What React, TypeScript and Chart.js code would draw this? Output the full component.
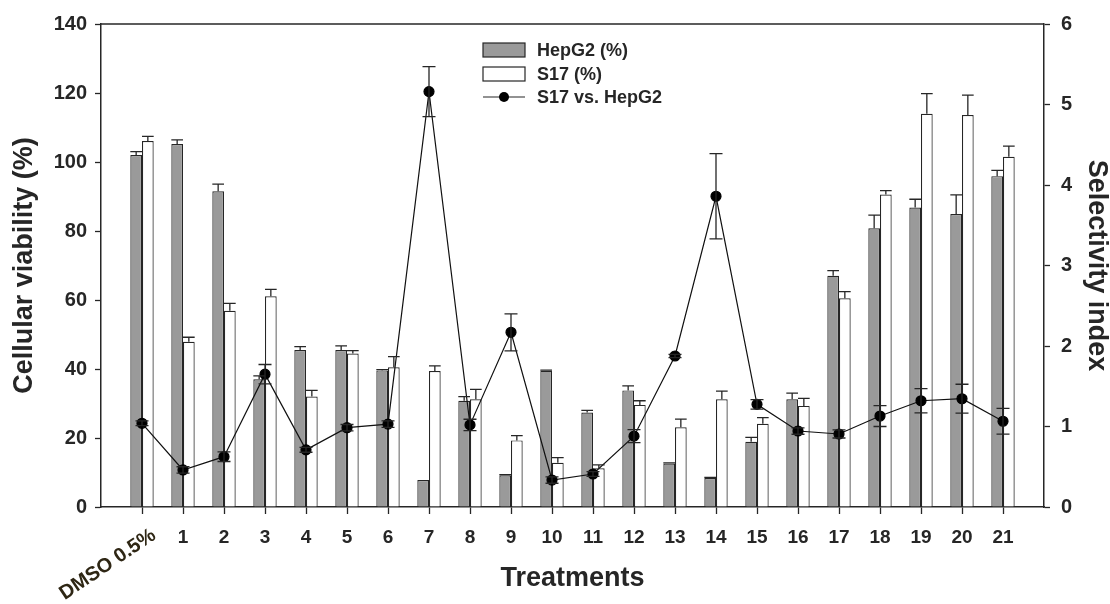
import React, { useEffect, useRef } from 'react';
import { Chart, registerables } from 'chart.js';
Chart.register(...registerables);

const categories = ['DMSO 0.5%', '1', '2', '3', '4', '5', '6', '7', '8', '9', '10', '11', '12', '13', '14', '15', '16', '17', '18', '19', '20', '21'];
const hepg2 = [102, 105.2, 91.5, 37, 45.5, 45.5, 39.6, 7.8, 30.8, 9.2, 39.5, 27.4, 33.8, 12.6, 8.4, 18.9, 31.2, 67, 80.8, 86.8, 84.9, 95.9];
const hepg2Err = [1, 1.2, 2.1, 1, 1, 1.2, 0.2, 0, 1.2, 0.2, 0.2, 0.6, 1.3, 0.2, 0.2, 1.3, 1.8, 1.5, 3.8, 2.4, 5.6, 1.7];
const s17 = [106.1, 47.9, 56.9, 61.1, 32, 44.5, 40.5, 39.4, 31.2, 19.3, 12.8, 11.2, 29.6, 23.1, 31.2, 24.1, 29.3, 60.5, 90.6, 114, 113.6, 101.5];
const s17Err = [1.3, 1.3, 2.1, 2, 1.8, 0.8, 3.1, 1.5, 2.9, 1.4, 1.5, 1, 1.2, 2.4, 2.4, 1.8, 2.2, 1.9, 1.1, 5.8, 5.8, 3.1];
const selectivity = [1.04, 0.46, 0.625, 1.65, 0.71, 0.985, 1.03, 5.16, 1.02, 2.17, 0.335, 0.41, 0.88, 1.876, 3.86, 1.275, 0.944, 0.907, 1.13, 1.32, 1.345, 1.065];
const selectivityErr = [0.03, 0.04, 0.06, 0.12, 0.03, 0.04, 0.04, 0.31, 0.07, 0.23, 0.04, 0.03, 0.08, 0.02, 0.53, 0.06, 0.04, 0.05, 0.13, 0.15, 0.18, 0.16];
const seriesNames = ['HepG2 (%)', 'S17 (%)', 'S17 vs. HepG2'];

const FONT = "'Liberation Sans', Arial, sans-serif";
const INK = '#262626';
const GREY = '#9a9a9a';

const pad = (a: (number | null)[]) => [null, ...a, null];

const errorBarPlugin = {
  id: 'errorBars',
  afterDatasetsDraw(chart: any) {
    const ctx = chart.ctx;
    ctx.save();
    ctx.strokeStyle = INK;
    ctx.lineWidth = 1.3;
    const yS = chart.scales.y;
    const y2S = chart.scales.y2;
    [[hepg2, hepg2Err], [s17, s17Err]].forEach(([vals, errs], di) => {
      const meta = chart.getDatasetMeta(di);
      meta.data.forEach((el: any, i: number) => {
        const k = i - 1;
        if (k < 0 || k >= vals.length) return;
        const e = errs[k];
        if (!e) return;
        const yTop = yS.getPixelForValue(vals[k] + e);
        const x = el.x;
        const w = el.width;
        ctx.beginPath();
        ctx.moveTo(x, el.y);
        ctx.lineTo(x, yTop);
        ctx.moveTo(x - w / 2, yTop);
        ctx.lineTo(x + w / 2, yTop);
        ctx.stroke();
      });
    });
    const lm = chart.getDatasetMeta(2);
    lm.data.forEach((el: any, i: number) => {
      const k = i - 1;
      if (k < 0 || k >= selectivity.length) return;
      const e = selectivityErr[k];
      const yHi = y2S.getPixelForValue(selectivity[k] + e);
      const yLo = y2S.getPixelForValue(selectivity[k] - e);
      const x = el.x;
      const w = 13;
      ctx.beginPath();
      ctx.moveTo(x, yLo);
      ctx.lineTo(x, yHi);
      ctx.moveTo(x - w / 2, yHi);
      ctx.lineTo(x + w / 2, yHi);
      ctx.moveTo(x - w / 2, yLo);
      ctx.lineTo(x + w / 2, yLo);
      ctx.stroke();
    });
    ctx.restore();
  },
  afterDraw(chart: any) {
    const ctx = chart.ctx;
    const area = chart.chartArea;
    ctx.save();
    // top frame line
    ctx.strokeStyle = INK;
    ctx.lineWidth = 1.5;
    ctx.beginPath();
    ctx.moveTo(area.left, area.top);
    ctx.lineTo(area.right, area.top);
    ctx.stroke();

    // rotated first category label
    const xs = chart.scales.x;
    const x0 = xs.getPixelForValue(1);
    ctx.translate(x0 + 15, area.bottom + 31);
    ctx.rotate(-34 * Math.PI / 180);
    ctx.fillStyle = '#2e2614';
    ctx.font = `bold 20px ${FONT}`;
    ctx.textAlign = 'right';
    ctx.textBaseline = 'alphabetic';
    ctx.fillText(categories[0], 0, 0);
    ctx.restore();

    // legend
    ctx.save();
    const lx = 483;
    const bw = 42;
    const bh = 14;
    const rows = [50, 74, 97];
    ctx.lineWidth = 1.2;
    ctx.strokeStyle = INK;
    ctx.fillStyle = GREY;
    ctx.fillRect(lx, rows[0] - bh / 2, bw, bh);
    ctx.strokeRect(lx, rows[0] - bh / 2, bw, bh);
    ctx.fillStyle = '#ffffff';
    ctx.fillRect(lx, rows[1] - bh / 2, bw, bh);
    ctx.strokeRect(lx, rows[1] - bh / 2, bw, bh);
    ctx.beginPath();
    ctx.moveTo(lx, rows[2]);
    ctx.lineTo(lx + bw, rows[2]);
    ctx.stroke();
    ctx.fillStyle = '#000';
    ctx.beginPath();
    ctx.arc(lx + bw / 2, rows[2], 5, 0, Math.PI * 2);
    ctx.fill();
    ctx.fillStyle = INK;
    ctx.font = `bold 18px ${FONT}`;
    ctx.textAlign = 'left';
    ctx.textBaseline = 'middle';
    seriesNames.forEach((n, i) => ctx.fillText(n, 537, rows[i] + 1));
    ctx.restore();
  },
};

export default function App() {
  const ref = useRef<HTMLCanvasElement | null>(null);
  useEffect(() => {
    document.body.style.margin = '0';
    const labels = ['', ...categories, ''];
    const chart = new Chart(ref.current as HTMLCanvasElement, {
      type: 'bar',
      data: {
        labels,
        datasets: [
          {
            type: 'bar',
            label: seriesNames[0],
            data: pad(hepg2),
            backgroundColor: GREY,
            borderColor: INK,
            borderWidth: 1.2,
            yAxisID: 'y',
            order: 2,
            barPercentage: 1,
            categoryPercentage: 0.57,
          },
          {
            type: 'bar',
            label: seriesNames[1],
            data: pad(s17),
            backgroundColor: '#ffffff',
            borderColor: INK,
            borderWidth: 1.2,
            yAxisID: 'y',
            order: 2,
            barPercentage: 1,
            categoryPercentage: 0.57,
          },
          {
            type: 'line',
            label: seriesNames[2],
            data: pad(selectivity),
            borderColor: '#111',
            borderWidth: 1.2,
            pointRadius: 5,
            pointBackgroundColor: '#000',
            pointBorderColor: '#000',
            yAxisID: 'y2',
            order: 1,
            spanGaps: false,
          } as any,
        ],
      },
      options: {
        responsive: false,
        animation: false,
        devicePixelRatio: 1,
        layout: { padding: { top: 24, left: 0, right: 0, bottom: 0 } },
        plugins: { legend: { display: false }, tooltip: { enabled: false } },
        scales: {
          x: {
            offset: false,
            afterFit: (s: any) => { s.height = 97; },
            grid: {
              offset: false,
              drawOnChartArea: false,
              drawTicks: true,
              tickLength: 7,
              tickWidth: 1.3,
              tickColor: (c: any) => (c.index === 0 || c.index === labels.length - 1 ? 'rgba(0,0,0,0)' : INK),
            },
            border: { display: true, color: INK, width: 1.5 },
            ticks: {
              autoSkip: false,
              maxRotation: 0,
              minRotation: 0,
              padding: 12,
              color: INK,
              font: { family: FONT, size: 19, weight: 'bold' },
              callback: (_v: any, i: number) => (i <= 1 || i === labels.length - 1 ? '' : labels[i]),
            },
            title: {
              display: true,
              text: 'Treatments',
              color: INK,
              font: { family: FONT, size: 27, weight: 'bold', lineHeight: 1.2 },
              padding: { top: 0, bottom: 9 },
            },
          },
          y: {
            position: 'left',
            min: 0,
            max: 140,
            afterFit: (s: any) => { s.width = 101; },
            grid: { drawOnChartArea: false, drawTicks: true, tickLength: 6, tickWidth: 1.3, tickColor: INK },
            border: { display: true, color: INK, width: 1.5 },
            ticks: {
              stepSize: 20,
              padding: 8,
              color: INK,
              font: { family: FONT, size: 20, weight: 'bold' },
            },
            title: {
              display: true,
              text: 'Cellular viability (%)',
              color: INK,
              font: { family: FONT, size: 27, weight: 'bold', lineHeight: 1.2 },
              padding: { top: 8, bottom: 0 },
            },
          },
          y2: {
            position: 'right',
            min: 0,
            max: 6,
            afterFit: (s: any) => { s.width = 66; },
            grid: { drawOnChartArea: false, drawTicks: true, tickLength: 6, tickWidth: 1.3, tickColor: INK },
            border: { display: true, color: INK, width: 1.5 },
            ticks: {
              stepSize: 1,
              padding: 11,
              color: INK,
              font: { family: FONT, size: 20, weight: 'bold' },
            },
            title: {
              display: true,
              text: 'Selectivity index',
              color: INK,
              font: { family: FONT, size: 27, weight: 'bold', lineHeight: 1.0 },
              padding: { top: 0, bottom: 0 },
            },
          },
        },
      } as any,
      plugins: [errorBarPlugin],
    });
    return () => chart.destroy();
  }, []);
  return (
    <div style={{ width: 1110, height: 604, background: '#fff' }}>
      <canvas ref={ref} width={1110} height={604} />
    </div>
  );
}
